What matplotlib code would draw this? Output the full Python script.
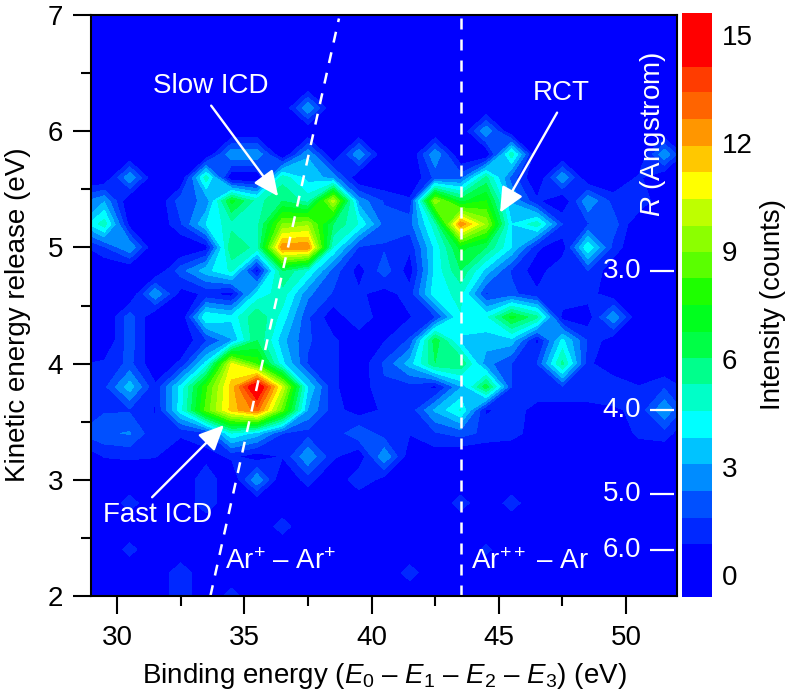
# Binding energy vs kinetic energy release map, Ar trimer decay channels
import numpy as np
import matplotlib
matplotlib.use("Agg")
import matplotlib.pyplot as plt
from matplotlib.colors import ListedColormap, BoundaryNorm

plt.rcParams["font.family"] = ["Liberation Sans", "DejaVu Sans"]
plt.rcParams["mathtext.fontset"] = "custom"
plt.rcParams["mathtext.rm"] = "Liberation Sans"
plt.rcParams["mathtext.it"] = "Liberation Sans:italic"
plt.rcParams["mathtext.default"] = "regular"

BINDING = [28.5 + i for i in range(25)]
KER = [2.0 + 0.2 * i for i in range(26)]

# counts per bin, one row per KER value from 2.0 up to 7.0
COUNTS = [
    # 28.5 .. 52.5
    [0, 0, 0, 0, 1.5, 0, 1.3, 0, 0, 0, 0, 0, 0, 0, 0, 0, 0, 0, 0, 0, 0, 0, 0, 0, 0],
    [0, 0, 0, 0, 1.5, 0, 0, 0, 0, 0, 0, 0, 0, 1.3, 0, 0, 0, 0, 0, 0, 0, 0, 0, 0, 0],
    [0, 0, 1.2, 0, 0, 0, 0, 0, 0, 0, 0, 0, 0, 0, 0, 0, 1.1, 0, 0, 0, 0, 0, 0, 0, 0],
    [0, 0, 0, 0, 0, 0, 0, 0, 1.3, 0, 0, 0, 0, 0, 0, 0, 0, 0, 0, 0, 0, 0, 0, 0, 0],
    [0, 0, 1.3, 0, 0, 1.5, 0, 0, 0, 0, 0, 0, 0, 0, 0, 1.3, 0, 1.3, 0, 0, 0, 0, 0, 0, 0],
    [0, 0, 0, 0, 0, 1.5, 0, 3, 0, 1.2, 0, 1.5, 0.5, 0, 0, 0, 0, 0, 0, 0, 0, 0, 0, 0, 0],
    [0, 0.9, 1, 0.9, 0.2, 0.5, 1, 0.4, 0.9, 3, 1, 0.2, 3, 0.3, 0.4, 0, 0, 0, 0, 0, 0, 0, 0, 0, 0],
    [1.6, 2.2, 2.4, 1, 1, 1.4, 4.5, 3.5, 1.6, 1.3, 1.1, 2.2, 1.2, 0.9, 1.5, 1.9, 1.4, 1.2, 0.4, 0, 0, 0, 1.1, 1.3, 0],
    [1.4, 1.5, 1.5, 0.8, 4.2, 8.5, 11.5, 13, 8.5, 3, 1.2, 0.4, 1, 1.1, 3.2, 4.6, 0.7, 1.3, 0.5, 0.5, 0.5, 0.7, 1.1, 3, 1],
    [1, 1.4, 3.5, 1, 4, 8, 11.5, 15.5, 10.3, 3.8, 1, 0.3, 1.5, 1.3, 0.6, 3, 6.5, 1.6, 1.5, 1.5, 1.5, 1.6, 0.9, 1.5, 0.5],
    [0.8, 1, 1.8, 0.2, 1, 4, 10.5, 8, 4, 1.5, 1, 0.3, 1.7, 3.4, 6, 6, 2.6, 1.6, 1.6, 5.5, 1.1, 0, 0, 0, 0],
    [0, 0, 2, 0, 0.2, 1.5, 3, 6, 3.3, 1.7, 1, 0.3, 0.8, 1.7, 6.5, 3.6, 3.5, 3.5, 0.6, 4, 1.5, 0.3, 0, 0, 0],
    [0, 0, 2, 0, 0, 4.5, 4, 6, 4.2, 1.7, 0.3, 1.5, 0.3, 0.8, 1.5, 4.5, 4.3, 7, 5.5, 0.5, 0.4, 3, 0, 0, 0],
    [0, 0, 0, 3, 0.5, 1, 0.5, 4, 5, 2.5, 1.5, 1, 0.5, 1.2, 4.3, 4.7, 1.5, 1.8, 1, 1.6, 1.2, 0.3, 0, 0, 0],
    [0, 0, 0, 0, 2, 3.5, 4.7, 0.5, 6, 4.5, 2, 0.5, 2, 0.4, 4, 6, 3.5, 1.5, 0.4, 1.6, 1.6, 0.3, 0, 0, 0],
    [0.5, 1.5, 3, 0, 0, 0.5, 6, 5, 12.5, 12.5, 4.5, 1.5, 1.5, 1, 4, 7, 6, 3.8, 1, 0.3, 4.5, 1.3, 0, 0, 0],
    [3, 5, 0.5, 0, 1.5, 3.8, 5, 5, 9, 9.5, 6, 4.5, 2, 2, 5, 12.5, 9.5, 3.8, 5, 1.6, 1.5, 2, 0, 0, 0],
    [2, 3, 0, 0, 2, 2.5, 7, 5, 6, 5, 10, 2.8, 1.5, 1, 9.5, 6.5, 7.5, 3, 1, 0, 3, 1.3, 1.6, 0, 0],
    [0, 0, 3, 0, 0, 5, 0, 0, 5, 3.5, 2.8, 0, 0, 0, 1.8, 2, 5.5, 2, 0, 3, 0, 0, 1, 0, 0],
    [0, 0, 0, 0, 0, 0, 3, 3, 0, 3, 0, 3, 0, 0, 3, 0, 0, 5, 0, 0, 0, 0, 0, 3, 0],
    [0, 0, 0, 0, 0, 0, 0, 0, 0, 0, 0, 0, 0, 0, 0, 0, 3, 0, 0, 0, 0, 0, 0, 0, 0],
    [0, 0, 0, 0, 0, 0, 0, 0, 0, 3, 0, 0, 0, 0, 0, 0, 0, 0, 0, 0, 0, 0, 0, 0, 0],
    [0] * 25,
    [0] * 25,
    [0] * 25,
    [0] * 25,
]

LEVELS = [-0.6, 0.86, 1.6, 2.33, 3.08, 3.8, 4.55, 5.3, 6.03, 6.75, 7.5,
          8.25, 8.97, 9.7, 10.44, 11.2, 11.9, 12.67, 13.4, 14.1, 15.6]
BAND_COLORS = ["#0000ff", "#0028ff", "#0050ff", "#008cff", "#00c3ff",
               "#00ffff", "#00ffc8", "#00ff8c", "#00ff46", "#00ff1e",
               "#1eff00", "#5aff00", "#8cff00", "#beff00", "#ffff00",
               "#ffc800", "#ff9600", "#ff6400", "#ff3c00", "#ff0000"]
CBAR_TICKS = [0, 3, 6, 9, 12, 15]

R_VALUES = ["3.0", "4.0", "5.0", "6.0"]
R_KER = [4.8, 3.6, 2.88, 2.4]

SLANT_X = [33.67, 38.72]
SLANT_Y = [2.0, 6.97]
VERT_X = 43.52

FS = 20

fig = plt.figure(figsize=(7.88, 7.0), dpi=100)
ax = fig.add_axes([91 / 788, 104 / 700, 586 / 788, 581 / 700])

cmap = ListedColormap(BAND_COLORS)
norm = BoundaryNorm(LEVELS, cmap.N)
cf = ax.contourf(BINDING, KER, np.array(COUNTS), levels=LEVELS, cmap=cmap, norm=norm)

ax.set_xlim(28.98, 52.0)
ax.set_ylim(2, 7)
ax.set_xticks([30, 35, 40, 45, 50])
ax.set_xticks([32.5, 37.5, 42.5, 47.5], minor=True)
ax.set_yticks([2, 3, 4, 5, 6, 7])
ax.set_yticks([2.5, 3.5, 4.5, 5.5, 6.5], minor=True)
ax.tick_params(which="major", length=13, width=1.5, labelsize=FS)
ax.tick_params(which="minor", length=7, width=1.5)
ax.tick_params(axis="x", which="major", pad=8)
ax.tick_params(axis="y", which="major", pad=7)
for s in ax.spines.values():
    s.set_linewidth(1.5)

ax.set_xlabel(r"Binding energy ($\mathit{E}_0$ – $\mathit{E}_1$ – $\mathit{E}_2$ – $\mathit{E}_3$) (eV)",
              fontsize=FS, labelpad=7)
ax.set_ylabel("Kinetic energy release (eV)", fontsize=FS, y=0.485, labelpad=12)

# channel lines
ax.plot(SLANT_X, SLANT_Y, color="white", lw=1.8, dashes=(4.4, 4))
ax.plot([VERT_X, VERT_X], [2.0, 7.0], color="white", lw=1.8, dashes=(4.4, 4))

# arrows
arrow = dict(arrowstyle="-|>,head_length=0.9,head_width=0.42", color="white", lw=1.7,
             shrinkA=0, shrinkB=0, mutation_scale=17)
ax.annotate("", xy=(36.33, 5.44), xytext=(33.7, 6.22), arrowprops=arrow)
ax.annotate("", xy=(45.05, 5.30), xytext=(47.29, 6.16), arrowprops=arrow)
ax.annotate("", xy=(34.2, 3.47), xytext=(31.38, 2.85), arrowprops=arrow)

ax.text(33.7, 6.39, "Slow ICD", color="white", fontsize=FS, ha="center", va="center")
ax.text(47.47, 6.33, "RCT", color="white", fontsize=FS, ha="center", va="center")
ax.text(31.58, 2.70, "Fast ICD", color="white", fontsize=FS, ha="center", va="center")
ax.text(34.24, 2.29, r"Ar$^{+}$ – Ar$^{+}$", color="white", fontsize=FS, ha="left", va="center")
ax.text(43.91, 2.29, r"Ar$^{++}$ – Ar", color="white", fontsize=FS, ha="left", va="center")

# R scale inside the map
for lab, k in zip(R_VALUES, R_KER):
    ax.plot([50.95, 51.9], [k, k], color="white", lw=1.6, solid_capstyle="butt")
    ax.text(50.59, k, lab, color="white", fontsize=FS, ha="right", va="center")
ax.text(51.06, 5.97, r"$\mathit{R}$ (Angstrom)", color="white", fontsize=FS, rotation=90,
        ha="center", va="center")

cax = fig.add_axes([682 / 788, 103 / 700, 30 / 788, 584 / 700])
cb = fig.colorbar(cf, cax=cax, ticks=CBAR_TICKS, spacing="proportional")
cb.ax.tick_params(length=0, labelsize=FS, pad=7)
cb.ax.minorticks_off()
cb.outline.set_visible(False)
cb.set_label("Intensity (counts)", fontsize=FS, labelpad=5)

fig.savefig("out.png", dpi=100)
